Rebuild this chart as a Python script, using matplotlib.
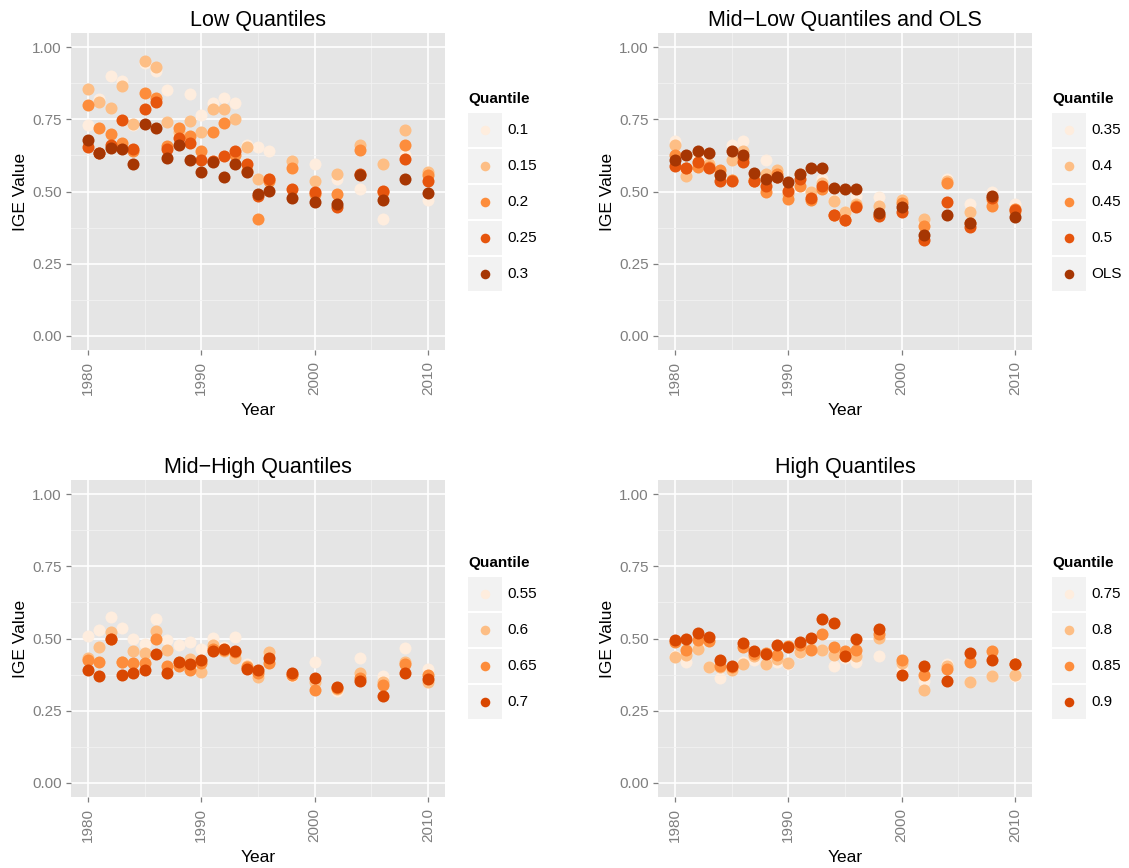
import matplotlib
matplotlib.use("Agg")
import matplotlib.pyplot as plt
from matplotlib.patches import Rectangle

plt.rcParams['font.family'] = ['Liberation Sans', 'DejaVu Sans']

# survey years: annual to 1996, every other year after
years = [1980, 1981, 1982, 1983, 1984, 1985, 1986, 1987, 1988, 1989, 1990, 1991,
         1992, 1993, 1994, 1995, 1996, 1998, 2000, 2002, 2004, 2006, 2008, 2010]

# low quantiles
q010 = [0.73, 0.82, 0.90, 0.885, 0.73, 0.945, 0.918, 0.852, 0.70, 0.837, 0.767, 0.806,
        0.823, 0.806, 0.66, 0.654, 0.64, 0.58, 0.594, 0.545, 0.507, 0.403, 0.628, 0.472]
q015 = [0.854, 0.81, 0.789, 0.866, 0.735, 0.953, 0.932, 0.741, 0.706, 0.743, 0.708, 0.785,
        0.788, 0.75, 0.654, 0.542, 0.545, 0.605, 0.538, 0.562, 0.663, 0.594, 0.713, 0.566]
q020 = [0.799, 0.72, 0.70, 0.67, 0.64, 0.843, 0.825, 0.657, 0.72, 0.691, 0.64, 0.705,
        0.736, 0.625, 0.571, 0.405, 0.538, 0.58, 0.493, 0.493, 0.643, 0.50, 0.66, 0.557]
q025 = [0.654, 0.635, 0.663, 0.748, 0.649, 0.788, 0.812, 0.646, 0.684, 0.667, 0.611, 0.605,
        0.622, 0.639, 0.594, 0.485, 0.542, 0.507, 0.499, 0.445, 0.561, 0.503, 0.614, 0.538]
q030 = [0.68, 0.632, 0.652, 0.649, 0.595, 0.733, 0.72, 0.616, 0.66, 0.611, 0.569, 0.604,
        0.55, 0.594, 0.569, 0.49, 0.503, 0.479, 0.462, 0.458, 0.557, 0.472, 0.545, 0.495]

# mid-low quantiles and OLS
q035 = [0.675, 0.57, 0.62, 0.60, 0.549, 0.663, 0.674, 0.54, 0.611, 0.57, 0.51, 0.55,
        0.50, 0.545, 0.47, 0.43, 0.486, 0.481, 0.47, 0.39, 0.542, 0.455, 0.498, 0.455]
q040 = [0.663, 0.553, 0.60, 0.594, 0.56, 0.611, 0.64, 0.545, 0.559, 0.576, 0.49, 0.56,
        0.497, 0.53, 0.466, 0.43, 0.455, 0.451, 0.472, 0.406, 0.537, 0.428, 0.47, 0.43]
q045 = [0.625, 0.58, 0.585, 0.585, 0.576, 0.54, 0.615, 0.536, 0.498, 0.56, 0.475, 0.519,
        0.469, 0.51, 0.42, 0.40, 0.45, 0.42, 0.46, 0.38, 0.528, 0.39, 0.451, 0.44]
q050 = [0.59, 0.583, 0.604, 0.582, 0.538, 0.536, 0.601, 0.536, 0.519, 0.55, 0.501, 0.544,
        0.478, 0.519, 0.417, 0.40, 0.447, 0.415, 0.43, 0.331, 0.463, 0.376, 0.478, 0.4375]
ols = [0.609, 0.626, 0.64, 0.632, 0.556, 0.64, 0.628, 0.565, 0.542, 0.551, 0.534, 0.561,
       0.581, 0.582, 0.513, 0.51, 0.51, 0.424, 0.446, 0.35, 0.417, 0.389, 0.486, 0.413]

# mid-high quantiles
q055 = [0.51, 0.53, 0.574, 0.535, 0.497, 0.481, 0.568, 0.495, 0.479, 0.488, 0.463, 0.502,
        0.47, 0.505, 0.41, 0.37, 0.45, 0.369, 0.418, 0.319, 0.432, 0.369, 0.466, 0.394]
q060 = [0.432, 0.47, 0.524, 0.42, 0.455, 0.449, 0.525, 0.461, 0.42, 0.43, 0.385, 0.478,
        0.458, 0.432, 0.403, 0.366, 0.453, 0.375, 0.348, 0.325, 0.381, 0.35, 0.42, 0.348]
q065 = [0.426, 0.42, 0.50, 0.42, 0.416, 0.416, 0.497, 0.403, 0.405, 0.39, 0.414, 0.462,
        0.46, 0.453, 0.40, 0.38, 0.414, 0.372, 0.323, 0.328, 0.364, 0.337, 0.412, 0.372]
q070 = [0.392, 0.369, 0.497, 0.372, 0.381, 0.392, 0.447, 0.381, 0.418, 0.412, 0.427, 0.455,
        0.464, 0.455, 0.394, 0.389, 0.431, 0.379, 0.364, 0.331, 0.354, 0.302, 0.379, 0.358]

# high quantiles
q075 = [0.44, 0.418, 0.47, 0.40, 0.364, 0.39, 0.42, 0.427, 0.41, 0.42, 0.41, 0.45,
        0.46, 0.46, 0.406, 0.432, 0.42, 0.441, 0.395, 0.352, 0.41, 0.35, 0.37, 0.37]
q080 = [0.435, 0.444, 0.464, 0.40, 0.40, 0.389, 0.41, 0.44, 0.41, 0.43, 0.414, 0.453,
        0.465, 0.461, 0.444, 0.445, 0.44, 0.502, 0.414, 0.323, 0.405, 0.348, 0.369, 0.375]
q085 = [0.487, 0.461, 0.495, 0.49, 0.405, 0.40, 0.47, 0.447, 0.45, 0.444, 0.475, 0.476,
        0.461, 0.516, 0.47, 0.455, 0.461, 0.516, 0.427, 0.374, 0.395, 0.42, 0.456, 0.41]
q090 = [0.495, 0.499, 0.518, 0.505, 0.426, 0.403, 0.484, 0.458, 0.447, 0.479, 0.47, 0.487,
        0.502, 0.566, 0.553, 0.441, 0.499, 0.533, 0.372, 0.406, 0.352, 0.449, 0.427, 0.41]

oranges5 = ['#feedde', '#fdbe85', '#fd8d3c', '#e6550d', '#a63603']
oranges4 = ['#feedde', '#fdbe85', '#fd8d3c', '#d94701']

W, H = 1129, 868
fig = plt.figure(figsize=(W / 100, H / 100), dpi=100)

# overlay in pixel units for the legend keys
over = fig.add_axes([0, 0, 1, 1], zorder=10)
over.set_xlim(0, W)
over.set_ylim(H, 0)
over.axis('off')


def draw_panel(box, title, series, colors):
    x0, y0, x1, y1 = box
    ax = fig.add_axes([x0 / W, 1 - y1 / H, (x1 - x0) / W, (y1 - y0) / H])
    ax.set_facecolor('#e5e5e5')
    for vals, c in zip(series, colors):
        ax.scatter(years, vals, s=75, color=c, linewidths=0, zorder=3)
    ax.set_xlim(1978.5, 2011.5)
    ax.set_ylim(-0.05, 1.05)
    ax.set_xticks([1980, 1990, 2000, 2010])
    ax.set_xticks([1985, 1995, 2005], minor=True)
    ax.set_yticks([0, 0.25, 0.5, 0.75, 1.0])
    ax.set_yticklabels(['0.00', '0.25', '0.50', '0.75', '1.00'])
    ax.set_yticks([0.125, 0.375, 0.625, 0.875], minor=True)
    ax.grid(which='major', color='white', linewidth=1.2)
    ax.grid(which='minor', color='#f2f2f2', linewidth=0.6)
    ax.set_axisbelow(True)
    for s in ax.spines.values():
        s.set_visible(False)
    ax.tick_params(which='major', length=3.6, width=0.9, color='#7f7f7f',
                   labelcolor='#7f7f7f', labelsize=11, pad=3)
    ax.tick_params(axis='x', pad=4.5)
    ax.tick_params(which='minor', length=0)
    ax.tick_params(axis='x', labelrotation=90)
    ax.set_title(title, fontsize=15.5, pad=5)
    ax.set_xlabel('Year', fontsize=12.5, labelpad=5.5)
    ax.set_ylabel('IGE Value', fontsize=12.5, labelpad=3)
    return ax


def draw_legend(x, y_title, labels, colors):
    over.text(x, y_title, 'Quantile', fontsize=11, fontweight='bold',
              ha='left', va='center')
    top = y_title + 14
    for i, (lab, c) in enumerate(zip(labels, colors)):
        ty = top + i * 36
        over.add_patch(Rectangle((x, ty), 34, 34, facecolor='#f2f2f2',
                                 edgecolor='none'))
        over.scatter([x + 17], [ty + 17], s=48, color=c, linewidths=0)
        over.text(x + 39, ty + 17, lab, fontsize=11, ha='left', va='center')


draw_panel((71, 33, 445, 350), 'Low Quantiles',
           [q010, q015, q020, q025, q030], oranges5)
draw_legend(468, 99, ['0.1', '0.15', '0.2', '0.25', '0.3'], oranges5)

draw_panel((658, 33, 1032, 350), 'Mid\u2212Low Quantiles and OLS',
           [q035, q040, q045, q050, ols], oranges5)
draw_legend(1052, 99, ['0.35', '0.4', '0.45', '0.5', 'OLS'], oranges5)

draw_panel((71, 480, 445, 797), 'Mid\u2212High Quantiles',
           [q055, q060, q065, q070], oranges4)
draw_legend(468, 563, ['0.55', '0.6', '0.65', '0.7'], oranges4)

draw_panel((658, 480, 1032, 797), 'High Quantiles',
           [q075, q080, q085, q090], oranges4)
draw_legend(1052, 563, ['0.75', '0.8', '0.85', '0.9'], oranges4)

fig.savefig('out.png', dpi=100)
